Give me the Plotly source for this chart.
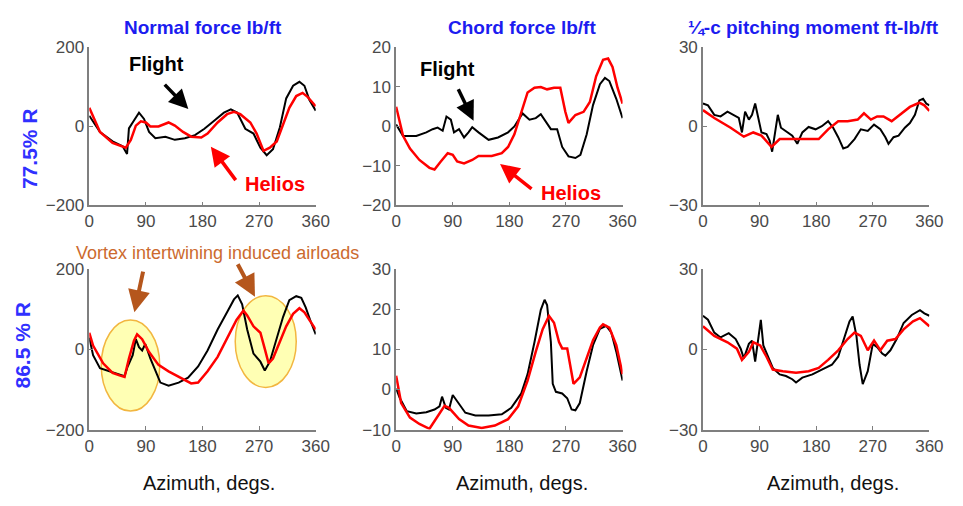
import plotly.graph_objects as go

W, H = 963, 506

# ---------------- data (azimuth deg, value) ----------------
# Panel 1: normal force, 77.5% R
nf775_flight_az = [0, 17, 37, 53, 60, 63, 71, 79, 87, 95, 105, 121, 136, 152, 168, 183, 199, 214, 225, 235, 248, 261, 272, 282, 292, 303, 313, 324, 334, 342, 350, 360]
nf775_flight = [27, -14, -38, -50, -70, -5, 15, 35, 19, -14, -30, -26, -34, -30, -22, -6, 15, 35, 43, 35, -6, -18, -54, -73, -58, -2, 71, 103, 113, 103, 67, 40]
nf775_helios_az = [0, 17, 37, 58, 66, 74, 82, 90, 97, 110, 126, 136, 149, 162, 178, 188, 204, 219, 230, 240, 256, 266, 277, 287, 298, 308, 318, 329, 339, 347, 360]
nf775_helios = [47, -14, -42, -54, -34, 2, 13, 10, 0, 0, 10, 2, -14, -26, -28, -18, 10, 31, 37, 31, 10, -18, -62, -54, -38, 6, 47, 77, 85, 75, 51]

# Panel 2: chord force, 77.5% R
cf775_flight_az = [0, 11, 32, 48, 58, 66, 74, 80, 87, 92, 100, 108, 115, 121, 131, 147, 162, 178, 188, 201, 212, 222, 230, 238, 246, 256, 264, 274, 285, 293, 303, 313, 324, 332, 339, 350, 360]
cf775_flight = [0.5, -2.4, -2.4, -1.5, -0.7, -0.3, -1.1, 2.5, 1.7, -1.5, -0.7, -2.8, -1.5, -0.2, -1.5, -3.4, -2.8, -1.5, 0, 3.3, 1.7, 2.1, 3.1, 1.3, -0.7, -0.7, -5.2, -7.6, -8, -7.2, -2, 5.4, 10.7, 12.3, 11.5, 7, 2.1]
cf775_helios_az = [0, 11, 22, 37, 53, 61, 71, 82, 90, 97, 108, 121, 131, 152, 168, 178, 188, 199, 209, 220, 230, 240, 251, 261, 269, 274, 285, 298, 308, 318, 329, 337, 344, 352, 360]
cf775_helios = [5, -2.4, -5.6, -8.5, -10.5, -10.9, -8.9, -6.8, -7.2, -8.9, -9.4, -8.5, -7.5, -7.5, -6.8, -5.2, -2, 3.7, 8.6, 9.8, 10, 9.4, 9.8, 9.8, 3.7, 0.9, 2.9, 3.7, 6.2, 12.7, 16.9, 17.2, 15.1, 9.8, 5.8]

# Panel 3: quarter-chord pitching moment, 77.5% R
pm775_flight_az = [0, 8, 18, 28, 39, 49, 57, 62, 67, 73, 78, 83, 88, 93, 101, 106, 110, 114, 119, 124, 132, 142, 150, 158, 168, 179, 189, 199, 207, 215, 223, 230, 241, 251, 262, 272, 282, 290, 295, 303, 311, 321, 329, 337, 344, 350, 355, 360]
pm775_flight = [8.7, 8, 4.4, 3.8, 5.6, 4.4, 3.2, -2.3, 5.6, 2.6, 4.4, 8.7, 3.2, -2.3, -2.9, -5.4, -9.6, -3.5, 4.4, -0.5, -1.7, -3.5, -6.6, -2.3, -0.2, -1.1, 0.1, 2, -0.5, -4.1, -8.4, -7.8, -4.8, -1.1, -1.7, 0.7, -1.1, -4.1, -6.6, -4.1, -3.5, -0.5, 1.3, 4.4, 9.9, 10.5, 8.7, 8]
pm775_helios_az = [0, 18, 44, 65, 80, 93, 109, 122, 137, 153, 168, 184, 199, 215, 230, 246, 256, 267, 277, 287, 300, 313, 329, 344, 352, 360]
pm775_helios = [6.2, 3.2, -0.5, -3.9, -2.3, -3.5, -7.8, -4.8, -4.8, -4.8, -4.8, -4.8, -1.1, 2, 2, 2.6, 5, 2.6, 3.8, 3.8, 2, 4.4, 7.4, 9, 8, 5.9]

# Panel 4: normal force, 86.5% R
nf865_flight_az = [0, 6, 17, 32, 45, 56, 61, 69, 74, 79, 84, 89, 97, 105, 113, 126, 142, 157, 173, 188, 204, 219, 230, 236, 243, 251, 261, 272, 279, 287, 298, 308, 318, 329, 337, 344, 352, 360]
nf865_flight = [29, -15, -47, -55, -63, -67, -43, -15, 25, 5, -3, 13, -23, -55, -83, -91, -83, -71, -43, -3, 49, 92, 124, 134, 112, 49, -11, -31, -53, -31, 25, 80, 122, 132, 128, 104, 69, 37]
nf865_helios_az = [0, 6, 22, 37, 48, 56, 63, 71, 76, 84, 95, 110, 126, 147, 162, 173, 188, 204, 219, 234, 245, 251, 261, 272, 279, 285, 292, 303, 313, 324, 334, 342, 352, 360]
nf865_helios = [41, 9, -35, -59, -65, -69, -23, 21, 37, 25, -7, -39, -55, -73, -85, -83, -55, -19, 29, 73, 96, 84, 57, 41, 1, -35, -23, 17, 57, 88, 102, 92, 69, 49]

# Panel 5: chord force, 86.5% R
cf865_flight_az = [0, 6, 17, 32, 48, 61, 69, 73, 79, 84, 90, 97, 110, 126, 147, 168, 183, 199, 209, 220, 230, 236, 240, 246, 249, 254, 264, 272, 279, 285, 292, 303, 313, 324, 334, 342, 350, 360]
cf865_flight = [0.2, -2.2, -5.4, -6, -5.7, -5, -4.2, -1.8, -4.6, -5, -1.4, -3, -5.8, -6.5, -6.5, -6.2, -4.6, -1, 3.8, 11.8, 19.8, 22.3, 21, 11.8, 1.4, -0.6, -1, -2.2, -5, -5.2, -3.4, 4.6, 11, 15.1, 15.8, 14.2, 9.4, 2.2]
cf865_helios_az = [0, 8, 22, 37, 53, 63, 77, 84, 100, 115, 136, 157, 178, 194, 209, 222, 233, 243, 251, 259, 264, 272, 277, 282, 292, 303, 313, 324, 329, 339, 350, 360]
cf865_helios = [3.4, -3.4, -7, -8.6, -9.8, -7.4, -4.1, -4.6, -7.4, -9, -9.6, -9, -7.4, -4.2, 2.2, 9.4, 15, 18.3, 16.6, 11.8, 10.2, 10.2, 6.2, 1.4, 3, 7.8, 12.2, 15.4, 16.2, 15.4, 11, 3.8]

# Panel 6: quarter-chord pitching moment, 86.5% R
pm865_flight_az = [0, 8, 18, 28, 41, 52, 60, 65, 73, 78, 83, 88, 92, 96, 104, 111, 122, 132, 142, 148, 158, 174, 189, 205, 215, 225, 233, 238, 244, 249, 254, 262, 270, 277, 285, 290, 298, 308, 319, 332, 345, 352, 360]
pm865_flight = [12.5, 11, 6.2, 4.4, 6, 3.8, 0.2, -3.4, 2, 3.2, -4.6, 3.8, 11, 1.4, -2.8, -7, -9.4, -10, -11.2, -12.4, -10.6, -9.4, -7.6, -5.8, -2.8, 5, 10.4, 12.2, 5, -5.8, -13, -8.2, 2, 0.8, -1.6, -2.4, -0.4, 3.8, 9.8, 12.8, 14.6, 13.4, 12.5]
pm865_helios_az = [0, 18, 39, 54, 62, 73, 80, 91, 101, 111, 127, 148, 168, 184, 199, 215, 230, 241, 251, 262, 272, 282, 293, 306, 319, 334, 345, 360]
pm865_helios = [8.6, 5, 2.6, 0.2, -4, -1, 2.6, 1.4, -2.8, -7.6, -8.2, -8.8, -8.2, -7, -4, -0.4, 3.8, 6.2, 5, -0.4, 3.2, -0.4, 3.2, 3.8, 7.4, 10.4, 11.6, 8.6]

panels = [
    (nf775_flight_az, nf775_flight, nf775_helios_az, nf775_helios, [-200, 200], [-200, 0, 200]),
    (cf775_flight_az, cf775_flight, cf775_helios_az, cf775_helios, [-20, 20], [-20, -10, 0, 10, 20]),
    (pm775_flight_az, pm775_flight, pm775_helios_az, pm775_helios, [-30, 30], [-30, 0, 30]),
    (nf865_flight_az, nf865_flight, nf865_helios_az, nf865_helios, [-200, 200], [-200, 0, 200]),
    (cf865_flight_az, cf865_flight, cf865_helios_az, cf865_helios, [-10, 30], [-10, 0, 10, 20, 30]),
    (pm865_flight_az, pm865_flight, pm865_helios_az, pm865_helios, [-30, 30], [-30, 0, 30]),
]

x_ticks = [0, 90, 180, 270, 360]
col_titles = ["Normal force lb/ft", "Chord force lb/ft", "\u00bc-c pitching moment ft-lb/ft"]
row_labels = ["77.5% R", "86.5 % R"]
x_label = "Azimuth, degs."

# ---------------- layout geometry (pixels) ----------------
col_px = [(86, 317), (399, 630), (712, 943)]
row_px = [(40, 204), (270, 437)]

def px(x):
    return x / W

def py(y):
    return 1 - y / H

FONT = "Arial, 'Liberation Sans', Helvetica, sans-serif"
BLUE = "#1c1cf0"
TICKFONT = dict(size=17, color="#4a4a4a", family=FONT)

fig = go.Figure()
layout = dict(
    width=W, height=H, margin=dict(l=0, r=0, t=0, b=0),
    paper_bgcolor="white", plot_bgcolor="white", showlegend=False,
    font=dict(family=FONT),
)

for i, (fa, fv, ha, hv, yr, yt) in enumerate(panels):
    r, c = divmod(i, 3)
    n = "" if i == 0 else str(i + 1)
    xa, ya = "x" + n, "y" + n
    fig.add_trace(go.Scatter(x=fa, y=fv, mode="lines", line=dict(color="black", width=2),
                             xaxis=xa, yaxis=ya, hoverinfo="skip"))
    fig.add_trace(go.Scatter(x=ha, y=hv, mode="lines", line=dict(color="#ff0000", width=2.5),
                             xaxis=xa, yaxis=ya, hoverinfo="skip"))
    x0, x1 = col_px[c]
    y0, y1 = row_px[r]
    layout["xaxis" + n] = dict(
        domain=[px(x0), px(x1)], anchor=ya, range=[0, 360], tickvals=x_ticks,
        showgrid=False, zeroline=False, showline=True, linecolor="#7f7f7f", linewidth=1.5,
        ticks="inside", ticklen=4, tickcolor="#7f7f7f",
        tickfont=TICKFONT, fixedrange=True,
    )
    layout["yaxis" + n] = dict(
        domain=[py(y1), py(y0)], anchor=xa, range=yr, tickvals=yt,
        showgrid=False, zeroline=False, showline=True, linecolor="#7f7f7f", linewidth=1.5,
        ticks="inside", ticklen=4, tickcolor="#7f7f7f",
        tickfont=TICKFONT, fixedrange=True,
    )

annotations = []
# column titles
title_x = [202, 527, 825]
for t, xx in zip(col_titles, title_x):
    annotations.append(dict(text="<b>" + t + "</b>", x=px(xx), y=py(19), xref="paper", yref="paper",
                            showarrow=False, xanchor="center", yanchor="middle",
                            font=dict(size=19, color=BLUE, family=FONT)))
# row labels
for t, xx, yy in zip(row_labels, [25, 18], [145, 350]):
    annotations.append(dict(text="<b>" + t + "</b>", x=px(xx), y=py(yy), xref="paper", yref="paper",
                            showarrow=False, textangle=-90, xanchor="center", yanchor="middle",
                            font=dict(size=21, color="#3030ff", family=FONT)))
# x labels
for xx in [208, 527, 845]:
    annotations.append(dict(text=x_label, x=px(xx), y=py(492), xref="paper", yref="paper",
                            showarrow=False, xanchor="center", yanchor="middle",
                            font=dict(size=20, color="#111111", family=FONT)))

# Flight / Helios labels with arrows
def label(text, x, y, color, size=20, bold=True):
    annotations.append(dict(text=("<b>%s</b>" % text) if bold else text, x=px(x), y=py(y),
                            xref="paper", yref="paper", showarrow=False,
                            xanchor="center", yanchor="middle",
                            font=dict(size=size, color=color, family=FONT)))

def arrow(xs, ys, xe, ye, color, width=3.5):
    annotations.append(dict(text="", x=px(xe), y=py(ye), xref="paper", yref="paper",
                            ax=xs - xe, ay=ys - ye, axref="pixel", ayref="pixel",
                            showarrow=True, arrowhead=2, arrowsize=1.1, arrowwidth=width,
                            arrowcolor=color, standoff=0))

label("Flight", 155, 57, "black")
arrow(162, 78, 187, 104, "black")
label("Helios", 275, 182, "#ff0000")
arrow(236, 178, 210, 143, "#ff0000")

label("Flight", 451, 62, "black")
arrow(462, 83, 478, 116, "black")
label("Helios", 577, 191, "#ff0000")
arrow(538, 187, 505, 161, "#ff0000")

# vortex annotation
label("Vortex intertwining induced airloads", 217, 253, "#cc6a2e", size=18, bold=False)
arrow(141, 273, 132, 315, "#b5561c", width=4)
arrow(237, 265, 255, 299, "#b5561c", width=4)

layout["annotations"] = annotations

# yellow ellipses in panel 4 data coordinates
layout["shapes"] = [
    dict(type="circle", xref="x4", yref="y4", x0=19, x1=112, y0=-154, y1=73,
         fillcolor="rgba(255,255,130,0.6)", line=dict(color="#f2b640", width=1.5), layer="below"),
    dict(type="circle", xref="x4", yref="y4", x0=232, x1=329, y0=-95, y1=133,
         fillcolor="rgba(255,255,130,0.6)", line=dict(color="#f2b640", width=1.5), layer="below"),
]

fig.update_layout(**layout)
fig.write_html("out.html")
